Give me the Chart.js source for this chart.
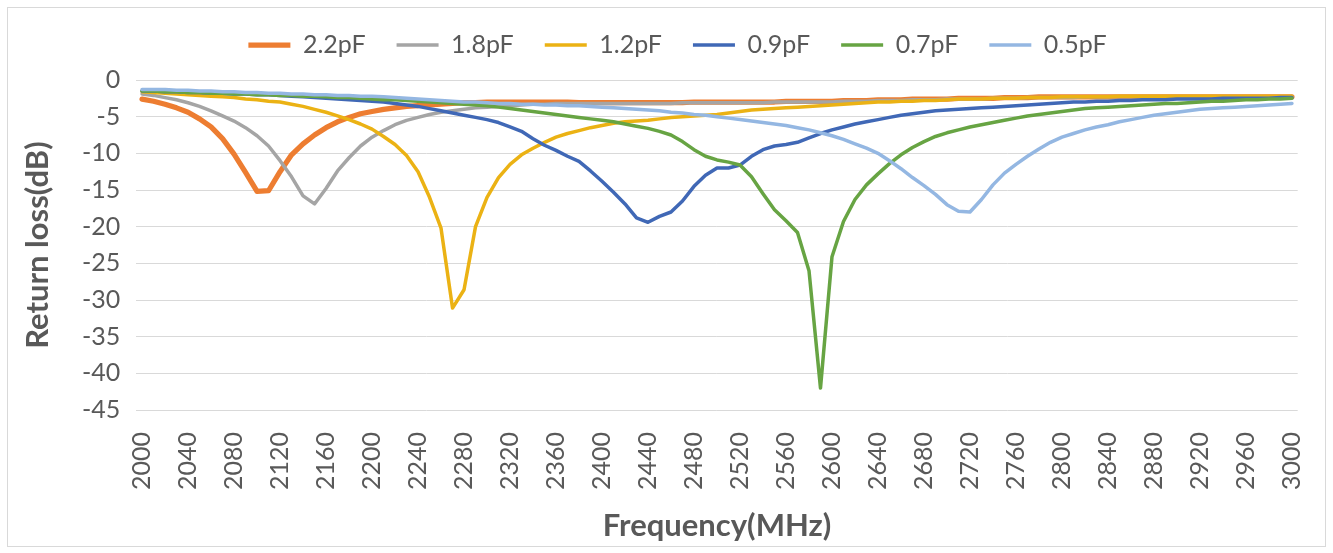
<!DOCTYPE html>
<html>
<head>
<meta charset="utf-8">
<script src="https://cdn.jsdelivr.net/npm/chart.js@4.4.1/dist/chart.umd.min.js"></script>
<style>
  html, body { margin: 0; padding: 0; background: #ffffff; }
  #wrap { position: relative; width: 1333px; height: 553px; }
</style>
</head>
<body>
<div id="wrap"><canvas id="c"></canvas></div>
<script>
// ---- data ----
const frequencies = Array.from({length: 101}, (_, i) => String(2000 + i * 10)); // MHz, 10 MHz step
const seriesNames = ['2.2pF', '1.8pF', '1.2pF', '0.9pF', '0.7pF', '0.5pF'];

const rl_2p2 = [
  -2.6,-2.9,-3.3,-3.8,-4.4,-5.3,-6.4,-8.0,-10.1,-12.6,
  -15.2,-15.1,-12.5,-10.2,-8.7,-7.5,-6.5,-5.7,-5.1,-4.6,
  -4.3,-4.0,-3.8,-3.6,-3.5,-3.4,-3.3,-3.2,-3.1,-3.1,
  -3.0,-3.0,-3.0,-3.0,-3.0,-3.0,-3.0,-3.0,-3.1,-3.1,
  -3.1,-3.1,-3.1,-3.1,-3.1,-3.1,-3.1,-3.1,-3.0,-3.0,
  -3.0,-3.0,-3.0,-3.0,-3.0,-3.0,-2.9,-2.9,-2.9,-2.9,
  -2.9,-2.8,-2.8,-2.8,-2.7,-2.7,-2.7,-2.6,-2.6,-2.6,
  -2.6,-2.5,-2.5,-2.5,-2.5,-2.4,-2.4,-2.4,-2.3,-2.3,
  -2.3,-2.3,-2.3,-2.3,-2.3,-2.3,-2.3,-2.3,-2.3,-2.3,
  -2.3,-2.3,-2.3,-2.3,-2.3,-2.3,-2.3,-2.3,-2.3,-2.3,
  -2.3
];
const rl_1p8 = [
  -1.9,-2.1,-2.4,-2.7,-3.1,-3.6,-4.2,-4.9,-5.6,-6.5,
  -7.6,-9.0,-11.0,-13.2,-15.8,-16.9,-14.8,-12.4,-10.6,-9.0,
  -7.8,-6.9,-6.1,-5.5,-5.1,-4.7,-4.4,-4.2,-4.0,-3.8,
  -3.7,-3.6,-3.5,-3.4,-3.3,-3.3,-3.2,-3.2,-3.2,-3.2,
  -3.2,-3.2,-3.2,-3.2,-3.2,-3.2,-3.2,-3.1,-3.1,-3.1,
  -3.1,-3.1,-3.1,-3.1,-3.1,-3.0,-3.0,-3.0,-3.0,-3.0,
  -3.0,-2.9,-2.9,-2.9,-2.8,-2.8,-2.8,-2.7,-2.7,-2.7,
  -2.6,-2.6,-2.6,-2.6,-2.5,-2.5,-2.5,-2.4,-2.4,-2.4,
  -2.4,-2.4,-2.3,-2.3,-2.3,-2.3,-2.3,-2.3,-2.3,-2.3,
  -2.3,-2.3,-2.3,-2.3,-2.3,-2.3,-2.3,-2.3,-2.3,-2.3,
  -2.3
];
const rl_1p2 = [
  -1.6,-1.7,-1.8,-1.9,-2.0,-2.1,-2.2,-2.3,-2.4,-2.6,
  -2.7,-2.9,-3.0,-3.3,-3.6,-4.0,-4.4,-4.9,-5.4,-6.0,
  -6.7,-7.7,-8.8,-10.3,-12.5,-16.0,-20.2,-31.1,-28.6,-20.0,
  -16.0,-13.3,-11.5,-10.2,-9.3,-8.5,-7.8,-7.3,-6.9,-6.5,
  -6.2,-5.9,-5.7,-5.6,-5.5,-5.3,-5.1,-5.0,-4.9,-4.8,
  -4.7,-4.5,-4.3,-4.1,-4.0,-3.9,-3.8,-3.7,-3.6,-3.5,
  -3.4,-3.3,-3.2,-3.1,-3.0,-3.0,-2.9,-2.9,-2.8,-2.8,
  -2.7,-2.6,-2.6,-2.6,-2.5,-2.5,-2.5,-2.4,-2.4,-2.4,
  -2.3,-2.3,-2.3,-2.3,-2.3,-2.2,-2.2,-2.2,-2.2,-2.2,
  -2.2,-2.2,-2.2,-2.2,-2.2,-2.2,-2.2,-2.2,-2.2,-2.2,
  -2.2
];
const rl_0p9 = [
  -1.5,-1.5,-1.6,-1.6,-1.7,-1.7,-1.8,-1.8,-1.9,-1.9,
  -2.0,-2.0,-2.1,-2.2,-2.3,-2.4,-2.5,-2.6,-2.7,-2.8,
  -2.9,-3.0,-3.2,-3.4,-3.6,-3.9,-4.2,-4.5,-4.8,-5.1,
  -5.4,-5.8,-6.4,-7.0,-8.0,-8.9,-9.6,-10.4,-11.1,-12.4,
  -13.8,-15.3,-16.9,-18.8,-19.4,-18.6,-18.0,-16.5,-14.5,-13.0,
  -12.0,-12.0,-11.6,-10.4,-9.5,-9.0,-8.8,-8.5,-7.9,-7.3,
  -6.8,-6.4,-6.0,-5.7,-5.4,-5.1,-4.8,-4.6,-4.4,-4.2,
  -4.1,-4.0,-3.9,-3.8,-3.7,-3.6,-3.5,-3.4,-3.3,-3.2,
  -3.1,-3.0,-3.0,-2.9,-2.9,-2.8,-2.8,-2.7,-2.7,-2.7,
  -2.6,-2.6,-2.6,-2.6,-2.5,-2.5,-2.5,-2.5,-2.5,-2.4,
  -2.4
];
const rl_0p7 = [
  -1.5,-1.5,-1.6,-1.6,-1.7,-1.7,-1.8,-1.8,-1.9,-1.9,
  -2.0,-2.0,-2.1,-2.1,-2.2,-2.2,-2.3,-2.4,-2.4,-2.5,
  -2.6,-2.7,-2.7,-2.8,-2.9,-3.0,-3.1,-3.2,-3.3,-3.4,
  -3.5,-3.7,-3.9,-4.1,-4.3,-4.5,-4.7,-4.9,-5.1,-5.3,
  -5.5,-5.7,-6.0,-6.3,-6.6,-7.0,-7.5,-8.4,-9.5,-10.4,
  -10.9,-11.2,-11.6,-13.2,-15.5,-17.7,-19.2,-20.8,-26.0,-42.0,
  -24.1,-19.3,-16.3,-14.3,-12.8,-11.4,-10.2,-9.2,-8.4,-7.7,
  -7.2,-6.8,-6.4,-6.1,-5.8,-5.5,-5.2,-4.9,-4.7,-4.5,
  -4.3,-4.1,-3.9,-3.8,-3.7,-3.6,-3.5,-3.4,-3.3,-3.2,
  -3.2,-3.1,-3.0,-2.9,-2.9,-2.8,-2.7,-2.7,-2.6,-2.6,
  -2.5
];
const rl_0p5 = [
  -1.3,-1.3,-1.3,-1.4,-1.4,-1.5,-1.5,-1.6,-1.6,-1.7,
  -1.7,-1.8,-1.8,-1.9,-1.9,-2.0,-2.0,-2.1,-2.1,-2.2,
  -2.2,-2.3,-2.4,-2.5,-2.6,-2.7,-2.8,-2.9,-3.0,-3.0,
  -3.1,-3.2,-3.2,-3.3,-3.3,-3.4,-3.4,-3.5,-3.5,-3.6,
  -3.7,-3.8,-3.9,-4.0,-4.1,-4.2,-4.4,-4.5,-4.7,-4.8,
  -5.0,-5.2,-5.4,-5.6,-5.8,-6.0,-6.2,-6.5,-6.8,-7.2,
  -7.6,-8.1,-8.7,-9.3,-10.0,-11.0,-12.1,-13.3,-14.4,-15.6,
  -17.0,-17.9,-18.0,-16.3,-14.3,-12.7,-11.5,-10.4,-9.4,-8.5,
  -7.8,-7.3,-6.8,-6.4,-6.1,-5.7,-5.4,-5.1,-4.8,-4.6,
  -4.4,-4.2,-4.0,-3.9,-3.8,-3.7,-3.6,-3.5,-3.4,-3.3,
  -3.2
];
const seriesValues = [rl_2p2, rl_1p8, rl_1p2, rl_0p9, rl_0p7, rl_0p5];
const yTickValues = [0, -5, -10, -15, -20, -25, -30, -35, -40, -45];

// ---- styles ----
const colors = ['#ED7D31', '#A5A5A5', '#EBB214', '#4068B6', '#67A443', '#94B7E2'];
const widths = [5.25, 3.5, 3.5, 3.5, 3.5, 3.5];
const TXT = '#595959';
const FONT = 'Lato, "Open Sans", sans-serif';

const frame = {
  id: 'frame',
  beforeDraw(chart) {
    const ctx = chart.ctx;
    ctx.save();
    ctx.fillStyle = '#ffffff';
    ctx.fillRect(0, 0, chart.width, chart.height);
    ctx.strokeStyle = '#D9D9D9';
    ctx.lineWidth = 1;
    ctx.strokeRect(7.5, 7.5, 1318, 539);
    ctx.restore();
  }
};
const legendFix = {
  id: 'legendFix',
  beforeUpdate(chart) {
    const lg = chart.legend;
    if (lg && !lg._patched) {
      const orig = lg.fit;
      lg.fit = function () { orig.call(this); this.height += 12.5; };
      lg._patched = true;
    }
  },
  afterLayout(chart) {
    const lg = chart.legend;
    if (lg) { lg.left += 28.6; lg.right += 28.6; }
  }
};

new Chart(document.getElementById('c'), {
  type: 'line',
  data: {
    labels: frequencies,
    datasets: seriesNames.map((name, i) => ({
      label: name,
      data: seriesValues[i],
      borderColor: colors[i],
      backgroundColor: colors[i],
      borderWidth: widths[i],
      pointRadius: 0,
      pointHoverRadius: 0,
      tension: 0,
      fill: false,
      borderJoinStyle: 'round',
      borderCapStyle: 'round',
      order: seriesNames.length - i
    }))
  },
  options: {
    responsive: true,
    maintainAspectRatio: false,
    animation: false,
    devicePixelRatio: 1,
    layout: { padding: { top: 1.5, left: 0, right: 35.3, bottom: 0 } },
    plugins: {
      tooltip: { enabled: false },
      legend: {
        position: 'top',
        align: 'center',
        labels: {
          usePointStyle: true,
          pointStyle: 'line',
          pointStyleWidth: 42,
          boxHeight: 25,
          padding: 31,
          color: TXT,
          font: { family: FONT, size: 25 },
          sort: (a, b) => a.datasetIndex - b.datasetIndex
        }
      }
    },
    scales: {
      x: {
        type: 'category',
        offset: true,
        grid: { display: false, drawTicks: false },
        border: { display: false },
        afterFit(s) { s.height = 143; s.paddingLeft = 0; s.paddingRight = 0; },
        ticks: {
          autoSkip: false,
          maxRotation: 90,
          minRotation: 90,
          padding: 22,
          color: TXT,
          font: { family: FONT, size: 25 },
          callback: (v, i) => (i % 4 === 0 ? frequencies[i] : '')
        },
        title: {
          display: true,
          text: 'Frequency(MHz)',
          color: TXT,
          font: { family: FONT, size: 31, weight: 'bold' },
          padding: { top: 0, bottom: 8 }
        }
      },
      y: {
        min: -45,
        max: 0,
        afterFit(s) { s.width = 136.3; s.paddingTop = 0; s.paddingBottom = 0; },
        afterBuildTicks(s) { s.ticks = yTickValues.map(v => ({ value: v })); },
        grid: { color: '#D9D9D9', lineWidth: 1, drawTicks: false },
        border: { display: false },
        ticks: {
          stepSize: 5,
          padding: 16,
          color: TXT,
          font: { family: FONT, size: 25 }
        },
        title: {
          display: true,
          text: 'Return loss(dB)',
          color: TXT,
          font: { family: FONT, size: 31, weight: 'bold' },
          padding: { top: 19, bottom: 0 }
        }
      }
    }
  },
  plugins: [frame, legendFix]
});
</script>
</body>
</html>
